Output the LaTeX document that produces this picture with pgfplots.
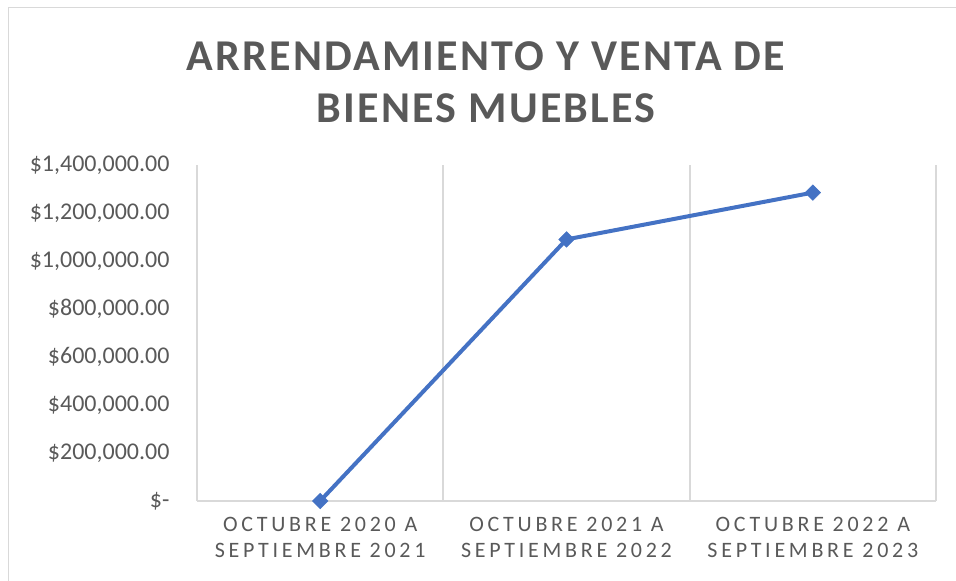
\documentclass[border=0pt]{standalone}
\usepackage{fontspec}
\setmainfont{Carlito}
\newfontfamily\titlefont[LetterSpace=5]{Carlito}
\newfontfamily\catfont[LetterSpace=17]{Carlito}
\usepackage{pgfplots}
\pgfplotsset{compat=1.18}
\definecolor{txtgray}{HTML}{595959}
\definecolor{gridgray}{HTML}{D9D9D9}
\definecolor{serie}{HTML}{4472C4}

\begin{document}
\begin{tikzpicture}[x=1bp,y=1bp]
\useasboundingbox (0,0) rectangle (956,581);
% chart border
\draw[gridgray, line width=1bp] (8,0) -- (8,573) -- (956,573);

% title
\node[font=\titlefont\bfseries\fontsize{44bp}{50bp}\selectfont, text=txtgray] at (486,525) {ARRENDAMIENTO Y VENTA DE};
\node[font=\titlefont\bfseries\fontsize{44bp}{50bp}\selectfont, text=txtgray] at (486,473) {BIENES MUEBLES};

\begin{axis}[
    at={(197bp,80bp)}, anchor=south west,
    scale only axis,
    width=739bp, height=336bp,
    xmin=-0.5, xmax=2.5,
    ymin=0, ymax=1400000,
    axis x line*=bottom, axis y line*=left,
    axis line style={gridgray, line width=1.8bp, -},
    major tick length=0pt,
    xtick={0,1,2},
    xticklabels={OCTUBRE 2020 A\\SEPTIEMBRE 2021, OCTUBRE 2021 A\\SEPTIEMBRE 2022, OCTUBRE 2022 A\\SEPTIEMBRE 2023},
    xticklabel style={font=\catfont\fontsize{22bp}{26bp}\selectfont, text=txtgray, align=center, yshift=-13bp},
    minor xtick={0.5,1.5,2.5},
    minor x grid style={gridgray, line width=1.8bp},
    xminorgrids=true,
    minor tick length=0pt,
    ytick={0,200000,400000,600000,800000,1000000,1200000,1400000},
    yticklabels={\$-\hspace{8bp}, \$200{,}000.00, \$400{,}000.00, \$600{,}000.00, \$800{,}000.00, \$1{,}000{,}000.00, \$1{,}200{,}000.00, \$1{,}400{,}000.00},
    yticklabel style={font=\fontsize{24bp}{28bp}\selectfont, text=txtgray, anchor=east, xshift=-24bp},
    scaled y ticks=false,
    clip=false,
]
\addplot[serie, line width=4bp, mark=square*, mark size=5.5bp, mark options={rotate=45, fill=serie, draw=serie, line width=0.5bp}]
    coordinates {(0,0) (1,1090000) (2,1285000)};
\end{axis}
\end{tikzpicture}
\end{document}
